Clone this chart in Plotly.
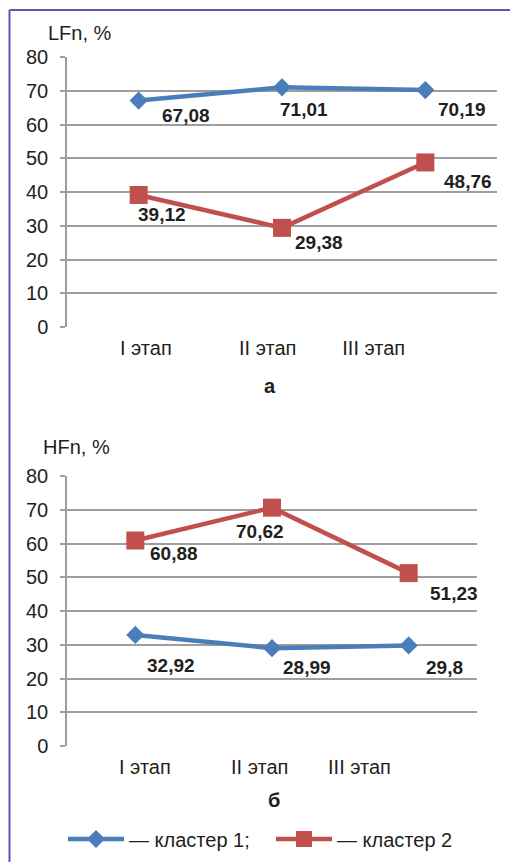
import plotly.graph_objects as go

W, H = 510, 862

stages = ["I этап", "II этап", "III этап"]
lf_cluster1 = [67.08, 71.01, 70.19]
lf_cluster2 = [39.12, 29.38, 48.76]
hf_cluster1 = [32.92, 28.99, 29.8]
hf_cluster2 = [60.88, 70.62, 51.23]
y_ticks = [0, 10, 20, 30, 40, 50, 60, 70, 80]
series_names = ["— кластер 1;", "— кластер 2"]
panel_titles = ["а", "б"]
axis_titles = ["LFn, %", "HFn, %"]

BLUE = "#4A7EBB"
RED = "#C0504D"
GRID = "#9E9E9E"
FONT = "Liberation Sans, Arial, sans-serif"
TXT = "#231F20"

def px_x(p):
    return p / W

def px_y(p):
    return 1 - p / H

idx = [0, 1, 2]

fig = go.Figure()

# panel a
fig.add_trace(go.Scatter(x=idx, y=lf_cluster1, mode="lines+markers", name=series_names[0],
                         legendgroup="c1", line=dict(color=BLUE, width=4.5),
                         marker=dict(symbol="diamond", size=14, color=BLUE),
                         xaxis="x", yaxis="y"))
fig.add_trace(go.Scatter(x=idx, y=lf_cluster2, mode="lines+markers", name=series_names[1],
                         legendgroup="c2", line=dict(color=RED, width=4.5),
                         marker=dict(symbol="square", size=18, color=RED),
                         xaxis="x", yaxis="y"))
# panel b
fig.add_trace(go.Scatter(x=idx, y=hf_cluster1, mode="lines+markers", name=series_names[0],
                         legendgroup="c1", showlegend=False, line=dict(color=BLUE, width=4.5),
                         marker=dict(symbol="diamond", size=14, color=BLUE),
                         xaxis="x2", yaxis="y2"))
fig.add_trace(go.Scatter(x=idx, y=hf_cluster2, mode="lines+markers", name=series_names[1],
                         legendgroup="c2", showlegend=False, line=dict(color=RED, width=4.5),
                         marker=dict(symbol="square", size=18, color=RED),
                         xaxis="x2", yaxis="y2"))

def fmt(v):
    return ("%g" % v).replace(".", ",")

annotations = []
label_shift_a1 = [(47, -15), (22, -22), (37, -19)]
label_shift_a2 = [(23, -20), (37, -15), (43, -19)]
label_shift_b1 = [(36, -31), (35, -19), (36, -22)]
label_shift_b2 = [(39, -13), (-12, -24), (45, -20)]
for vals, shifts, xr, yr in [(lf_cluster1, label_shift_a1, "x", "y"),
                             (lf_cluster2, label_shift_a2, "x", "y"),
                             (hf_cluster1, label_shift_b1, "x2", "y2"),
                             (hf_cluster2, label_shift_b2, "x2", "y2")]:
    for i, v in enumerate(vals):
        annotations.append(dict(x=i, y=v, xref=xr, yref=yr, text=fmt(v), showarrow=False,
                                xshift=shifts[i][0], yshift=shifts[i][1],
                                font=dict(family=FONT, size=19, color=TXT, weight="bold")))

# axis titles and panel letters
annotations.append(dict(x=px_x(46), y=px_y(33), xref="paper", yref="paper", text=axis_titles[0],
                        showarrow=False, xanchor="left", yanchor="middle",
                        font=dict(family=FONT, size=20, color=TXT)))
annotations.append(dict(x=px_x(41), y=px_y(447), xref="paper", yref="paper", text=axis_titles[1],
                        showarrow=False, xanchor="left", yanchor="middle",
                        font=dict(family=FONT, size=20, color=TXT)))
annotations.append(dict(x=px_x(270), y=px_y(386), xref="paper", yref="paper", text=panel_titles[0],
                        showarrow=False, xanchor="center", yanchor="middle",
                        font=dict(family=FONT, size=20, color=TXT, weight="bold")))
annotations.append(dict(x=px_x(274), y=px_y(800), xref="paper", yref="paper", text=panel_titles[1],
                        showarrow=False, xanchor="center", yanchor="middle",
                        font=dict(family=FONT, size=20, color=TXT, weight="bold")))

tick_font = dict(family=FONT, size=20, color=TXT)

xaxis_common = dict(range=[-0.5, 2.5], showgrid=False, zeroline=False, showline=False,
                    ticks="", tickfont=tick_font, ticklabelstandoff=7, fixedrange=True)
yaxis_common = dict(range=[0, 80], tickvals=y_ticks, showgrid=True, gridcolor=GRID, gridwidth=1.5,
                    zeroline=False, showline=True, linecolor=GRID, linewidth=1.5,
                    ticks="outside", ticklen=5, tickcolor=GRID, tickwidth=1.5,
                    tickfont=tick_font, ticklabelstandoff=8, fixedrange=True)

fig.update_layout(
    width=W, height=H,
    margin=dict(l=0, r=0, t=0, b=0, autoexpand=False),
    paper_bgcolor="white", plot_bgcolor="white",
    font=dict(family=FONT, color=TXT),
    xaxis=dict(domain=[px_x(67), px_x(497)], anchor="y",
               tickvals=[0.05, 0.90, 1.64], ticktext=stages, **xaxis_common),
    yaxis=dict(domain=[px_y(327), px_y(57)], anchor="x", **yaxis_common),
    xaxis2=dict(domain=[px_x(67), px_x(477)], anchor="y2",
                tickvals=[0.07, 0.91, 1.64], ticktext=stages, **xaxis_common),
    yaxis2=dict(domain=[px_y(746), px_y(476)], anchor="x2", **yaxis_common),
    annotations=annotations,
    showlegend=True,
    legend=dict(orientation="h", x=px_x(63), y=px_y(839), xanchor="left", yanchor="middle",
                font=dict(family=FONT, size=20, color=TXT), bgcolor="rgba(0,0,0,0)",
                itemwidth=56, entrywidth=137, entrywidthmode="pixels",
                itemclick=False, itemdoubleclick=False),
    shapes=[
        dict(type="line", xref="paper", yref="paper", x0=px_x(9.5), x1=px_x(9.5), y0=0, y1=px_y(10),
             line=dict(color="#6A4FB5", width=2)),
        dict(type="line", xref="paper", yref="paper", x0=px_x(9.5), x1=1, y0=px_y(10), y1=px_y(10),
             line=dict(color="#6A4FB5", width=2)),
    ],
)

fig.write_html(
    "out.html",
    config={"displayModeBar": False},
    post_script="document.body.style.margin='0';document.body.style.padding='0';document.body.style.overflow='hidden';document.documentElement.style.overflow='hidden';",
)
